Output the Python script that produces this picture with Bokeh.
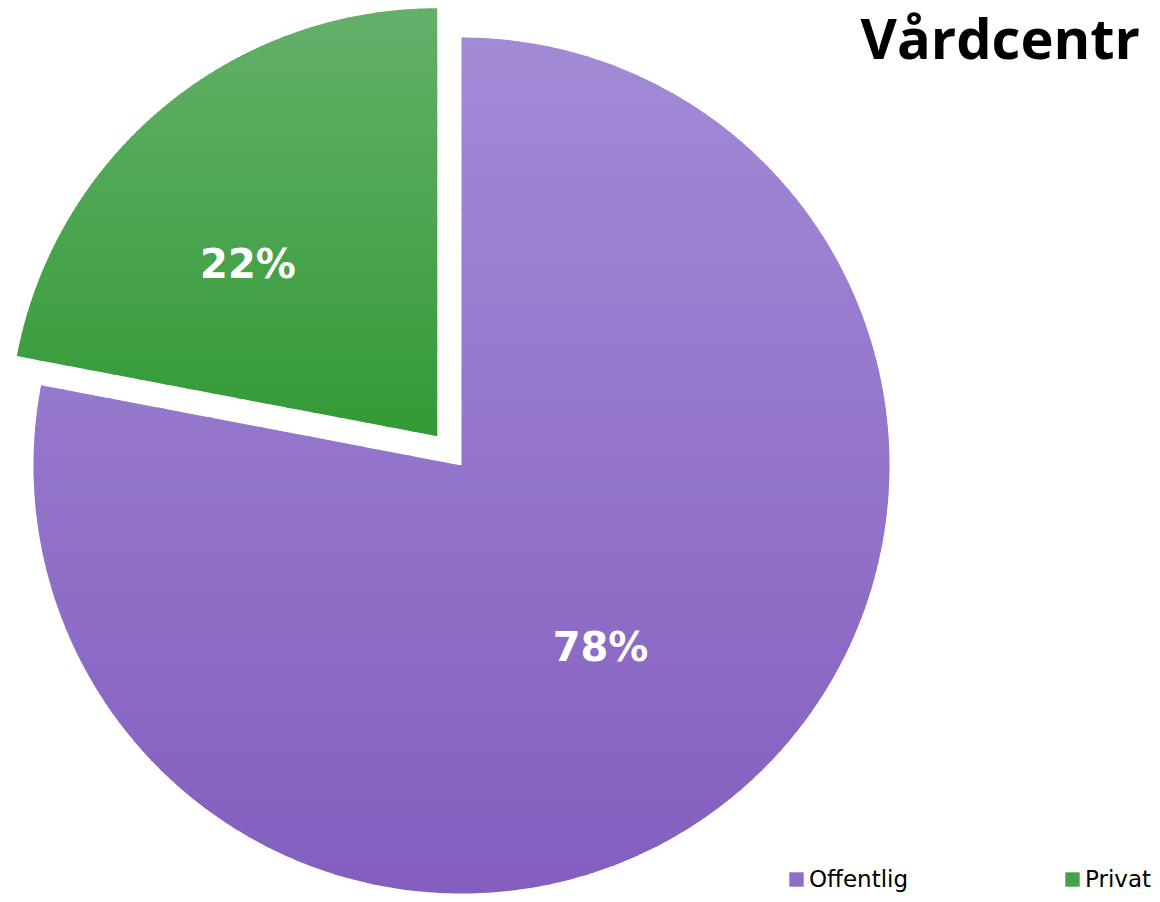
import numpy as np
from bokeh.plotting import figure
from bokeh.models import Range1d, Label, Legend, LegendItem
from bokeh.embed import file_html
from bokeh.resources import INLINE

# ---- data ----
categories = ["Offentlig", "Privat"]
shares = [78, 22]
label_texts = ["78%", "22%"]
title_text = "Vårdcentr"

# ---- styling ----
top_colors = ["#A38AD6", "#64B06A"]
bottom_colors = ["#835EBF", "#339A35"]
explode = [0.0, 38.0]

W, H = 1152, 894
p = figure(width=W, height=H, output_backend="svg", toolbar_location=None,
           x_range=Range1d(0, W), y_range=Range1d(0, H), min_border=0)
p.axis.visible = False
p.grid.visible = False
p.outline_line_color = None
p.background_fill_color = "white"

cx, cy, R = 461.0, 429.0, 428.0


def hex2rgb(h):
    h = h.lstrip("#")
    return np.array([int(h[i:i + 2], 16) for i in (0, 2, 4)], dtype=float)


def rgb2hex(c):
    c = np.clip(np.round(c), 0, 255).astype(int)
    return "#%02x%02x%02x" % tuple(c)


def clip_half(pts, yv, keep_above):
    out = []
    n = len(pts)
    for i in range(n):
        a = pts[i]
        b = pts[(i + 1) % n]
        ina = a[1] >= yv if keep_above else a[1] <= yv
        inb = b[1] >= yv if keep_above else b[1] <= yv
        if ina:
            out.append(a)
        if ina != inb:
            t = (yv - a[1]) / (b[1] - a[1])
            out.append((a[0] + t * (b[0] - a[0]), yv))
    return out


# slice angles: clockwise from 12 o'clock
total = float(sum(shares))
start = np.pi / 2
bands_xs, bands_ys, bands_col = [], [], []
label_pos = []
legend_index = []
for i, s in enumerate(shares):
    sweep = 2 * np.pi * s / total
    a_start = start - sweep  # anticlockwise start
    a_end = start
    mid = (a_start + a_end) / 2
    ox = cx + explode[i] * np.cos(mid)
    oy = cy + explode[i] * np.sin(mid)
    angs = np.linspace(a_start, a_end, 400)
    pts = [(ox, oy)] + [(ox + R * np.cos(a), oy + R * np.sin(a)) for a in angs]
    ys_all = [q[1] for q in pts]
    ymin, ymax = min(ys_all), max(ys_all)
    nb = 90
    edges = np.linspace(ymax, ymin, nb + 1)
    c0, c1 = hex2rgb(top_colors[i]), hex2rgb(bottom_colors[i])
    first = len(bands_xs)
    for k in range(nb):
        yhi, ylo = edges[k], edges[k + 1]
        poly = clip_half(pts, ylo - 0.6, True)
        if not poly:
            continue
        poly = clip_half(poly, yhi + 0.6, False)
        if len(poly) < 3:
            continue
        t = (k + 0.5) / nb
        col = rgb2hex(c0 + (c1 - c0) * t)
        bands_xs.append([q[0] for q in poly])
        bands_ys.append([q[1] for q in poly])
        bands_col.append(col)
    legend_index.append((first + len(bands_xs)) // 2 + (len(bands_xs) - first) // 8)
    start = a_start
    label_pos.append((ox, oy, mid))

pr = p.patches(xs=bands_xs, ys=bands_ys, fill_color=bands_col, line_color=None)

# labels
lab_ang = [np.deg2rad(-52.6), np.deg2rad(137.7)]
lab_r = [0.535 * R, 0.598 * R]
for i, txt in enumerate(label_texts):
    ox, oy, mid = label_pos[i]
    lx = ox + lab_r[i] * np.cos(lab_ang[i])
    ly = oy + lab_r[i] * np.sin(lab_ang[i])
    p.add_layout(Label(x=lx, y=ly, text=txt, text_align="center", text_baseline="middle",
                       text_font="DejaVu Sans", text_font_style="bold",
                       text_font_size="40px", text_color="white"))

# title (placed at the top-right, as in the reference)
p.add_layout(Label(x=860, y=H - 36, x_units="screen", y_units="screen", text=title_text,
                   text_align="left", text_baseline="alphabetic",
                   text_font="Open Sans", text_font_style="bold",
                   text_font_size="56px", text_color="black"))

# legend
items = [LegendItem(label=c, renderers=[pr], index=legend_index[i])
         for i, c in enumerate(categories)]

legend = Legend(items=items, location=(787, 2), orientation="horizontal",
                glyph_width=18, glyph_height=18, label_standoff=4, label_width=248,
                spacing=6, padding=0, margin=0, border_line_alpha=0,
                background_fill_alpha=0, label_text_font="DejaVu Sans",
                label_text_font_size="23px", label_text_color="black")
p.add_layout(legend, "center")

open("out.html", "w").write(file_html(p, INLINE))
